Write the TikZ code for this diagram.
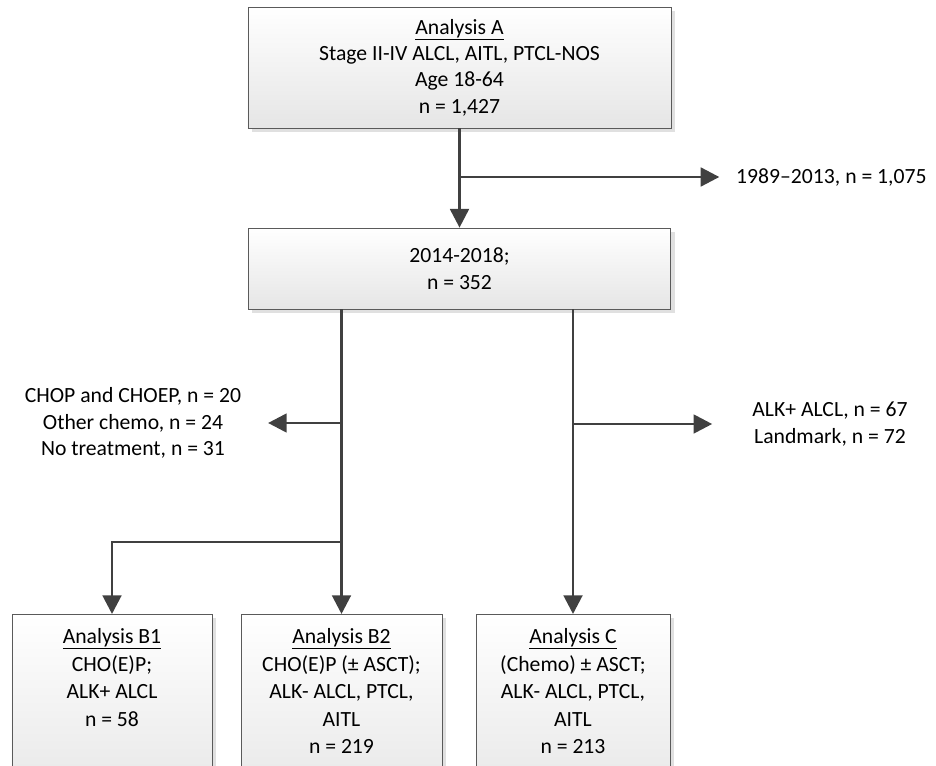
\documentclass[tikz,border=0pt]{standalone}
\usepackage{fontspec}
\setmainfont{Carlito}
\usepackage{tikz}
\usetikzlibrary{positioning, calc, arrows.meta, shadows}
\definecolor{linegray}{HTML}{404040}
\definecolor{boxgray}{HTML}{5A5A5A}
\tikzset{box/.style = {draw=boxgray, line width=0.6pt, top color=white, bottom color=black!10, align=flush center, inner sep=0pt,
                       drop shadow={shadow xshift=0.12cm, shadow yshift=-0.12cm, fill=black!12, opacity=1}},
         lowbox/.style = {box, anchor=north, font=\fontsize{18.5}{23.6}\selectfont, text height=0.87cm, text depth=5cm},
         arr/.style = {draw=linegray, line width=2.5pt, -{Triangle[length=0.56cm, width=0.56cm]}},
         lbl/.style = {align=center, inner sep=0pt}}

\begin{document}
\begin{tikzpicture}[x=0.03cm, y=-0.03cm, font=\fontsize{18.5}{22.5}\selectfont]
            \useasboundingbox (0,0) rectangle (936,765);
            \node[box, minimum width=12.69cm, minimum height=3.63cm] (anA) at (459.5,67.5)
                {\underline{Analysis A}\\Stage II-IV ALCL, AITL, PTCL-NOS\\Age 18-64\\n = 1,427};
            \node[box, minimum width=12.66cm, minimum height=2.43cm] (yrs) at (459.5,268.5)
                {2014-2018;\\n = 352};
            \node[lowbox, text width=6cm] (b1) at (112,614)
                {\underline{Analysis B1}\\CHO(E)P;\\ALK+ ALCL\\n = 58};
            \node[lowbox, text width=6.03cm] (b2) at (341.5,614)
                {\underline{Analysis B2}\\CHO(E)P (± ASCT);\\ALK- ALCL, PTCL,\\AITL\\n = 219};
            \node[lowbox, text width=5.82cm] (c) at (573,614)
                {\underline{Analysis C}\\(Chemo) ± ASCT;\\ALK- ALCL, PTCL,\\AITL\\n = 213};
            \node[lbl, anchor=west] (old) at (736,177) {1989–2013, n = 1,075};
            \node[lbl] (excl) at (133,423) {CHOP and CHOEP, n = 20\\Other chemo, n = 24\\No treatment, n = 31};
            \node[lbl] (alk) at (830,424) {ALK+ ALCL, n = 67\\Landmark, n = 72};
            \coordinate (split) at (341.5,542);
            \draw[arr] (anA.south) -- (anA.south |- yrs.north);
            \draw[arr, shorten >=0.5cm] (anA.south |- old.west) -- (old.west);
            \draw[arr] (b2.north |- yrs.south) -- (b2.north);
            \draw[arr] (c.north |- yrs.south) -- (c.north);
            \draw[arr, shorten >=0.8cm] (b2.north |- excl.east) -- (excl.east);
            \draw[arr, shorten >=1.2cm] (c.north |- alk.west) -- (alk.west);
            \draw[arr] (split) -| (b1.north);
        \end{tikzpicture}
\end{document}
